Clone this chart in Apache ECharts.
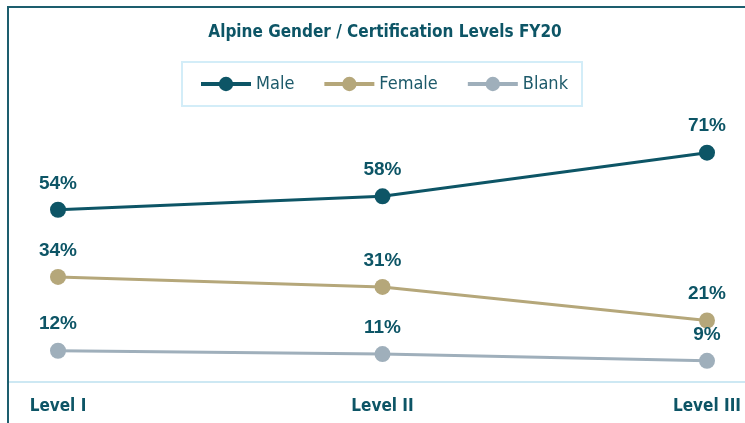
<!DOCTYPE html>
<html><head><meta charset="utf-8">
<script src="https://cdn.jsdelivr.net/npm/echarts@6/dist/echarts.min.js"></script>
<style>html,body{margin:0;padding:0;background:#fff}#c{width:745px;height:423px}</style>
</head><body><div id="c"></div>
<script>
const categories = ['Level I', 'Level II', 'Level III'];
const male = [54, 58, 71];
const female = [34, 31, 21];
const blank = [12, 11, 9];
const titleText = 'Alpine Gender / Certification Levels FY20';

const condensed = "'Liberation Sans Narrow', 'DejaVu Sans Condensed', 'Roboto', sans-serif";
const teal = '#0d5566';
const chart = echarts.init(document.getElementById('c'));
function mk(name, data, color) {
  return {
    name, type: 'line', data, symbol: 'circle', symbolSize: 16,
    lineStyle: { color, width: 3 }, itemStyle: { color },
    label: { show: true, position: 'top', distance: 9, formatter: '{c}%',
      color: teal, fontSize: 19, fontWeight: 'bold', fontFamily: "'Liberation Sans', Arial, sans-serif" },
    emphasis: { disabled: true }, animation: false
  };
}
chart.setOption({
  backgroundColor: '#fff',
  animation: false,
  title: { text: titleText, left: 380, textAlign: 'center', top: 19,
    textStyle: { color: teal, fontSize: 17, fontWeight: 'bold', fontFamily: condensed } },
  legend: { top: 62, left: 182, width: 403, height: 44, padding: [13, 14, 13, 17],
    borderColor: '#d3edf8', borderWidth: 2, itemWidth: 50, itemHeight: 18, itemGap: 28,
    lineStyle: { width: 4 },
    textStyle: { color: '#1d5a6a', fontSize: 18, fontFamily: condensed },
    data: ['Male', 'Female', 'Blank'] },
  grid: { left: 58, right: 38, top: 146, bottom: 32 },
  xAxis: { type: 'category', data: categories, boundaryGap: false,
    axisLine: { show: false }, axisTick: { show: false },
    axisLabel: { margin: 7, color: teal, fontSize: 17, fontWeight: 'bold', fontFamily: condensed } },
  yAxis: { type: 'value', min: 0, max: 73, show: false, splitLine: { show: false } },
  graphic: [
    { type: 'line', shape: { x1: 8, y1: 382, x2: 745, y2: 382 }, style: { stroke: '#cde8f3', lineWidth: 2 }, z: 0 },
    { type: 'line', shape: { x1: 7, y1: 7, x2: 745, y2: 7 }, style: { stroke: '#1d5e6e', lineWidth: 2 } },
    { type: 'line', shape: { x1: 8, y1: 6, x2: 8, y2: 423 }, style: { stroke: '#1d5e6e', lineWidth: 2 } }
  ],
  series: [mk('Male', male, '#0d5566'), mk('Female', female, '#b5a77a'), mk('Blank', blank, '#9fafbb')]
});
</script></body></html>
